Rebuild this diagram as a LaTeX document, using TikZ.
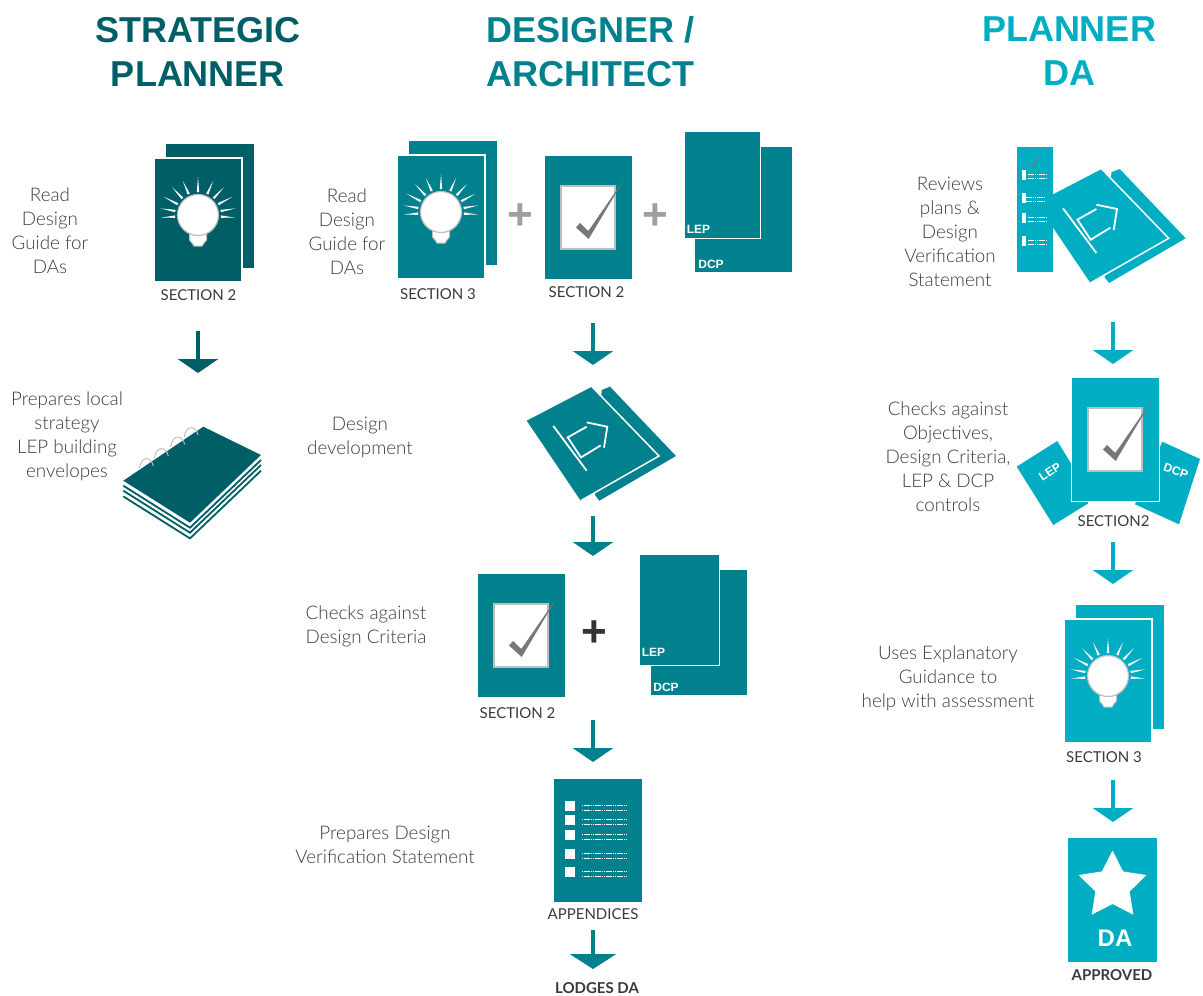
\documentclass[tikz,border=0pt]{standalone}
\usepackage{fontspec}
\setmainfont{Lato Light}
\newfontfamily\labelfont{Lato}
\newfontfamily\headfont{Liberation Sans}
\usetikzlibrary{positioning,shapes.geometric,arrows.meta}
\definecolor{tealdark}{HTML}{005F66}
\definecolor{tealmid}{HTML}{00818D}
\definecolor{teallight}{HTML}{00ADC3}
\definecolor{bodygrey}{HTML}{3C3C3C}
\definecolor{capgrey}{HTML}{3A3A3A}
\definecolor{tickgrey}{HTML}{77787B}
\definecolor{framegrey}{HTML}{BCBEC0}
\tikzset{
    title/.style={font=\headfont\bfseries\fontsize{36}{44}\selectfont, align=center, inner sep=0pt},
    body/.style={font=\fontsize{18.8}{24}\selectfont, text=bodygrey, align=center, inner sep=0pt},
    seclabel/.style={font=\labelfont\fontsize{15}{17}\selectfont, text=capgrey, inner sep=0pt},
    secbold/.style={font=\labelfont\bfseries\fontsize{15}{17}\selectfont, text=capgrey, inner sep=0pt},
    sheettag/.style={font=\headfont\bfseries\fontsize{12}{13}\selectfont, text=white, inner sep=0pt},
    plussign/.style={font=\headfont\bfseries\fontsize{44}{46}\selectfont, inner sep=0pt},
    blockarrow/.style={draw=#1, line width=4pt, -{Triangle[length=14pt,width=40pt]}},
    pics/bulb/.style={code={
        % rays
        \foreach \ang/\len in {90/38,66/37,47/38,28/39,10/38,-4/37,114/37,133/38,152/39,170/38,184/37}{
            \fill[white] (-\ang+3:23) -- (-\ang:\len) -- (-\ang-3:23) -- cycle;
        }
        \fill[white, draw=framegrey, line width=1pt] (-8.5,17) -- (-8.5,25) -- (-6,28) -- (-4,31) -- (4,31) -- (6,28) -- (8.5,25) -- (8.5,17) -- cycle;
        \fill[white, draw=framegrey, line width=1.2pt] (0,0) circle (20.5);
    }},
    pics/bulbbook/.style={code={
        \fill[#1] (12,-14) rectangle (100,110);
        \fill[#1, draw=white, line width=1.5pt] (0,0) rectangle (88,124);
        \pic at (44,57) {bulb};
    }},
    pics/checksheet/.style={code={
        \fill[#1, draw=white, line width=1pt] (-44,-62) rectangle (44,62);
        \fill[white, draw=framegrey, line width=2pt] (-27,-31.5) rectangle (27,31.5);
        \fill[tickgrey] (-12,10) -- (-8,5.5) -- (0.3,13.5) -- (37,-39.5) -- (0.7,21.5) -- cycle;
    }},
    pics/planset/.style={code={
        \fill[#1] (9.7,3.3) -- (18,0) -- (84,69.3) -- (7.3,114) -- (3,108.3) -- cycle;
        \fill[#1] (0,0) -- (-65.3,34) -- (-11.3,114) -- (67,69.3) -- cycle;
        \draw[white, line width=1.5pt] (0,0) -- (67,69.3) -- (-11.3,114);
        \draw[white, line width=1.8pt] (-38.7,39.3) -- (-5.3,84);
        \draw[white, line width=1.8pt] (-5.3,35.7) -- (15.3,40) -- (12,61);
        \draw[white, line width=1.8pt] (-5.3,40) -- (-24.3,50.7) -- (-11,70.7) -- (8.7,58.7);
    }},
    pics/dashpair/.style={code={
        \draw[white, line width=0.7pt, dash pattern=on 1.6pt off 0.6pt] (0,0) -- (#1,0);
        \draw[white, line width=0.7pt, dash pattern=on 1.6pt off 0.6pt] (0,4.4) -- (#1,4.4);
    }},
    pics/ring/.style={code={
        \draw[framegrey, line width=1pt] (0,0) .. controls (2,-13) and (12,-12) .. (14,-2.3);
    }},
}
\begin{document}
\begin{tikzpicture}[x=1pt,y=-1pt]
    \useasboundingbox (0,0) rectangle (1203,996);

    % titles
    \node[title, text=tealdark] (titleA) at (198,51.5) {STRATEGIC\\PLANNER};
    \node[title, text=tealmid] (titleB) at (590.5,51.5) {DESIGNER /\\ARCHITECT};
    \node[title, text=teallight] (titleC) at (1069,51.5) {PLANNER\\DA};

    % strategic planner
    \node[body] (readA) at (50,231) {Read\\Design\\Guide for\\DAs};
    \pic at (154,158) {bulbbook=tealdark};
    \node[seclabel] (secA) at (198.5,295) {SECTION 2};
    \coordinate (arrA1) at (198,331);
    \coordinate (arrA2) at (198,373);
    \draw[blockarrow=tealdark] (arrA1) -- (arrA2);
    \node[body] (prepA) at (67,436) {Prepares local\\strategy\\LEP building\\envelopes};
    \foreach \off in {5,10,15.7}{
        \draw[tealdark, line width=1.8pt] (123.3,480.7+\off) -- (190,522.7+\off) -- (261,455+\off);
    }
    \fill[tealdark] (203.3,426.7) -- (261,455) -- (190,522.7) -- (123.3,480.7) -- cycle;
    \pic at (139.3,468.3) {ring};
    \pic at (154.3,458.3) {ring};
    \pic at (170.7,446.7) {ring};
    \pic at (184,437.3) {ring};

    % designer
    \node[body] (readB) at (347,232) {Read\\Design\\Guide for\\DAs};
    \pic at (397,155) {bulbbook=tealmid};
    \node[seclabel] (secB) at (438,294) {SECTION 3};
    \node[plussign, text=gray!75] (plusA) at (520,217) {+};
    \pic at (588,217.5) {checksheet=tealmid};
    \node[seclabel] (secC) at (586.5,292) {SECTION 2};
    \node[plussign, text=gray!75] (plusB) at (655,217) {+};
    \fill[tealmid] (695,147) rectangle (792,272);
    \fill[tealmid, draw=white, line width=1.5pt] (684,131) rectangle (760.5,238.5);
    \node[sheettag] (lepA) at (698.5,229) {LEP};
    \node[sheettag] (dcpA) at (711,264) {DCP};
    \coordinate (arrB1) at (593,323);
    \coordinate (arrB2) at (593,365);
    \draw[blockarrow=tealmid] (arrB1) -- (arrB2);

    \node[body] (devB) at (360,437) {Design\\development};
    \pic at (592,386.7) {planset=tealmid};
    \coordinate (arrB3) at (593,516);
    \coordinate (arrB4) at (593,556);
    \draw[blockarrow=tealmid] (arrB3) -- (arrB4);

    \node[body] (checkB) at (366,626) {Checks against\\Design Criteria};
    \pic at (521,635.5) {checksheet=tealmid};
    \node[seclabel] (secD) at (517.5,713) {SECTION 2};
    \node[plussign, text=black!80] (plusC) at (594,634) {+};
    \fill[tealmid] (651,570) rectangle (747,695);
    \fill[tealmid, draw=white, line width=1.5pt] (639,554) rectangle (719.5,665.5);
    \node[sheettag] (lepB) at (653.5,652) {LEP};
    \node[sheettag] (dcpB) at (666,687) {DCP};
    \coordinate (arrB5) at (593,720);
    \coordinate (arrB6) at (593,762);
    \draw[blockarrow=tealmid] (arrB5) -- (arrB6);

    \node[body] (prepB) at (385,844.5) {Prepares Design\\Verification Statement};
    \fill[tealmid] (554,779) rectangle (641.7,902.3);
    \foreach \ya in {801,815,830,849,867}{
        \fill[white] (565,\ya) rectangle (575,\ya+10);
        \pic at (581.7,\ya+4.7) {dashpair=44.3};
    }
    \node[seclabel] (secE) at (593,914) {APPENDICES};
    \coordinate (arrB7) at (593,930);
    \coordinate (arrB8) at (593,969);
    \draw[blockarrow=tealmid, -{Triangle[length=15pt,width=46pt]}] (arrB7) -- (arrB8);
    \node[secbold] (lodge) at (597,988.5) {LODGES DA};

    % planner
    \node[body] (revC) at (950,232) {Reviews\\plans \&\\Design\\Verification\\Statement};
    \pic at (1101.7,169) {planset=teallight};
    \fill[teallight] (1017.3,147.3) rectangle (1052.7,271.7);
    \draw[tickgrey, line width=0.8pt] (1029.3,164) -- (1033.3,167.3) -- (1040,156);
    \foreach \ya/\xa in {170/1028,193/1026,213/1028,236/1028}{
        \fill[white] (1022,\ya) rectangle (1026,\ya+10);
        \pic at (\xa,\ya+4.3) {dashpair=18.7};
    }
    \coordinate (arrC1) at (1113,322);
    \coordinate (arrC2) at (1113,364);
    \draw[blockarrow=teallight] (arrC1) -- (arrC2);

    \node[body] (checkC) at (948,457) {Checks against\\Objectives,\\Design Criteria,\\LEP \& DCP\\controls};
    \fill[teallight] (1016.7,466.7) -- (1057.3,441) -- (1075,470) -- (1088.3,503.3) -- (1053.3,525) -- cycle;
    \fill[teallight] (1162.3,441.7) -- (1200,459) -- (1179,524.3) -- (1135,504.3) -- cycle;
    \node[sheettag, rotate=33] (lepC) at (1050,472) {LEP};
    \node[sheettag, rotate=-20] (dcpC) at (1176,471) {DCP};
    \pic at (1115,439.5) {checksheet=teallight};
    \node[seclabel] (secF) at (1113.5,520.7) {SECTION2};
    \coordinate (arrC3) at (1113,542);
    \coordinate (arrC4) at (1113,584);
    \draw[blockarrow=teallight] (arrC3) -- (arrC4);

    \node[body] (useC) at (948,678.5) {Uses Explanatory\\Guidance to\\help with assessment};
    \pic at (1064,619) {bulbbook=teallight};
    \node[seclabel] (secG) at (1104,757) {SECTION 3};
    \coordinate (arrC5) at (1113,780);
    \coordinate (arrC6) at (1113,822);
    \draw[blockarrow=teallight] (arrC5) -- (arrC6);

    \fill[teallight] (1068.3,838.3) rectangle (1156.7,961.7);
    \node[star, star points=5, star point ratio=1.97, minimum size=71pt, fill=white, inner sep=0pt] (staricon) at (1112.5,886) {};
    \node[font=\headfont\bfseries\fontsize{24}{26}\selectfont, text=white, inner sep=0pt] (daicon) at (1115,938.3) {DA};
    \node[secbold] (appr) at (1112,975) {APPROVED};
\end{tikzpicture}
\end{document}
